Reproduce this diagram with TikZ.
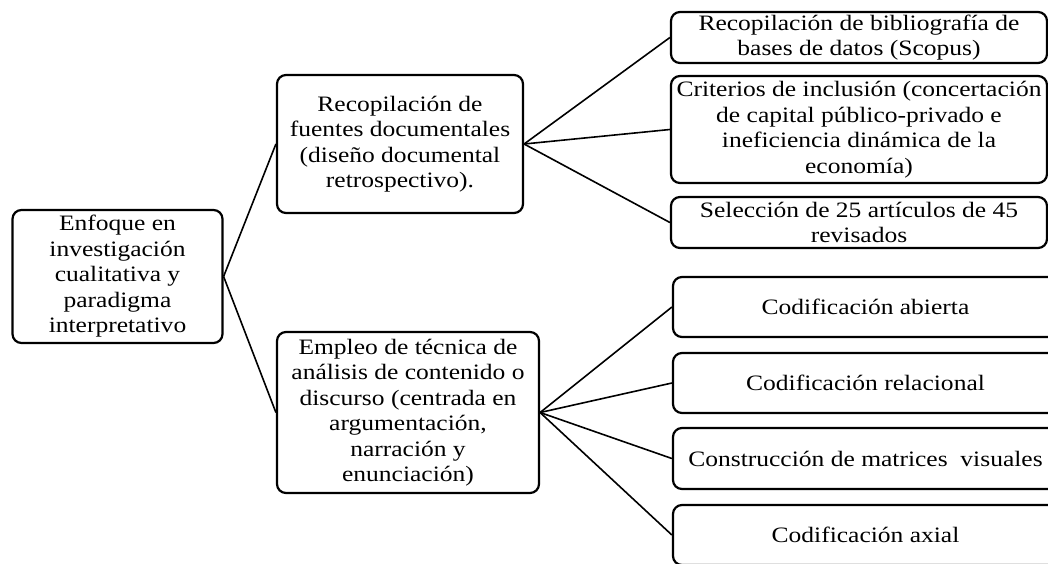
\documentclass[tikz,border=0pt]{standalone}
\usepackage{fontspec}
\setmainfont{Liberation Serif}[FakeStretch=1.16]
\begin{document}
\begin{tikzpicture}[x=1pt, y=-1pt,
    every node/.style={font=\fontsize{22}{25.5}\selectfont},
    box/.style={draw, line width=2.2pt, rounded corners=9pt, align=center,
      inner sep=0pt},
    link/.style={line width=1.6pt}]
  \useasboundingbox (0,0) rectangle (1048,563);

  % root
  \node[box, minimum width=210pt, minimum height=133pt] (root) at (117.5,276.5)
    {Enfoque en\\investigación\\cualitativa y\\paradigma\\interpretativo};

  % middle level
  \node[box, minimum width=246pt, minimum height=138pt] (docs) at (400,144)
    {Recopilación de\\fuentes documentales\\(diseño documental\\retrospectivo).};
  \node[box, minimum width=262pt, minimum height=161pt] (tecn) at (408,412.5)
    {Empleo de técnica de\\análisis de contenido o\\discurso (centrada en\\argumentación,\\narración y\\enunciación)};

  % right level, top group
  \node[box, minimum width=376pt, minimum height=51pt] (biblio) at (859,37.5)
    {Recopilación de bibliografía de\\bases de datos (Scopus)};
  \node[box, minimum width=376pt, minimum height=107pt] (criter) at (859,129.5)
    {Criterios de inclusión (concertación\\de capital público-privado e\\ineficiencia dinámica de la\\economía)};
  \node[box, minimum width=376pt, minimum height=51pt] (selec) at (859,222.5)
    {Selección de 25 artículos de 45\\revisados};

  % right level, bottom group
  \node[box, minimum width=385pt, minimum height=60pt] (abierta) at (865.5,307)
    {Codificación abierta};
  \node[box, minimum width=385pt, minimum height=60pt] (relac) at (865.5,383)
    {Codificación relacional};
  \node[box, minimum width=385pt, minimum height=61pt] (matr) at (865.5,458.5)
    {Construcción de matrices\ \ visuales};
  \node[box, minimum width=385pt, minimum height=60pt] (axial) at (865.5,535)
    {Codificación axial};

  % connectors
  \draw[link] (root.east) -- (docs.west);
  \draw[link] (root.east) -- (tecn.west);
  \foreach \n in {biblio, criter, selec}
    \draw[link] (docs.east) -- (\n.west);
  \foreach \n in {abierta, relac, matr, axial}
    \draw[link] (tecn.east) -- (\n.west);
\end{tikzpicture}
\end{document}
